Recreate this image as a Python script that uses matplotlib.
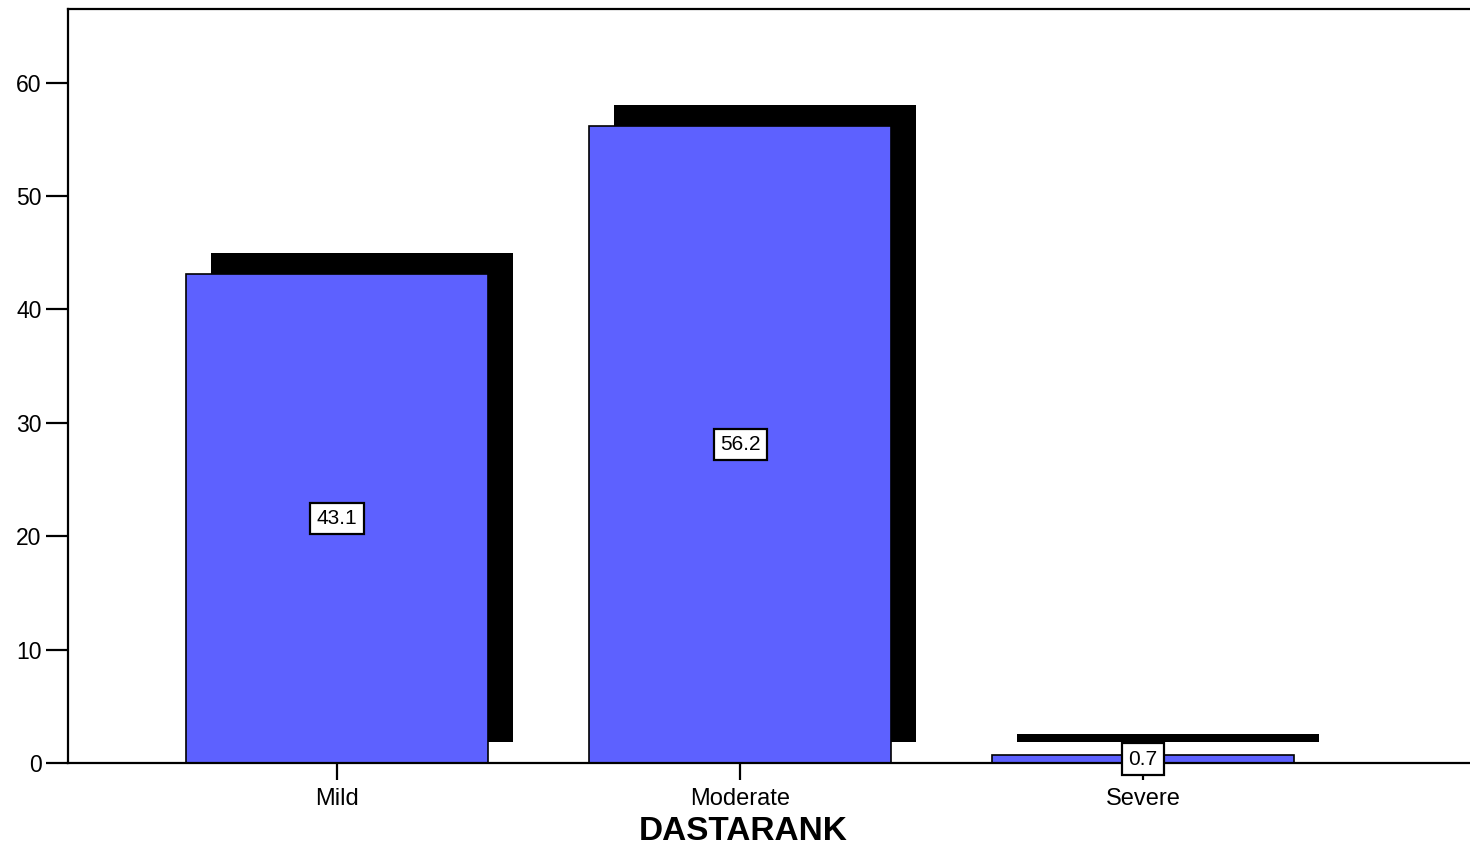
import matplotlib
matplotlib.use("Agg")
import matplotlib.pyplot as plt

categories = ["Mild", "Moderate", "Severe"]
percents = [43.1, 56.2, 0.7]
value_labels = ["43.1", "56.2", "0.7"]
y_ticks = [0, 10, 20, 30, 40, 50, 60]
x_title = "DASTARANK"

plt.rcParams["font.family"] = ["Liberation Sans", "DejaVu Sans"]

fig = plt.figure(figsize=(14.7, 8.5), dpi=100)
ax = fig.add_axes([68 / 1470, 1 - 763 / 850, 1 - 68 / 1470, (763 - 9) / 850])

bar_color = "#5d61ff"
width = 0.75
shadow_dx = 0.062
shadow_dy = 1.85
xs = list(range(len(categories)))

# drop shadows offset up and to the right
ax.bar([x + shadow_dx for x in xs], percents, width=width, bottom=shadow_dy,
       color="black", edgecolor="none", zorder=1)
# main bars
ax.bar(xs, percents, width=width, color=bar_color, edgecolor="black",
       linewidth=1.2, zorder=2)

for x, v, lab in zip(xs, percents, value_labels):
    ax.text(x, v / 2, lab, ha="center", va="center", fontsize=15, zorder=5,
            bbox=dict(boxstyle="square,pad=0.3", facecolor="white",
                      edgecolor="black", linewidth=1.6))

ax.set_xlim(-0.6675, 2.811)
ax.set_ylim(0, 66.5)
ax.set_xticks(xs)
ax.set_xticklabels(categories)
ax.set_yticks(y_ticks)

ax.spines["right"].set_visible(False)
for s in ("left", "top", "bottom"):
    ax.spines[s].set_linewidth(1.6)

ax.tick_params(axis="y", direction="out", length=16, width=1.6,
               labelsize=16.5, pad=3)
ax.tick_params(axis="x", direction="out", length=12, width=1.6,
               labelsize=17, pad=6)

ax.set_xlabel(x_title, fontsize=24, fontweight="bold", labelpad=4)
ax.xaxis.label.set_x((743 - 68) / 1402)

fig.savefig("out.png", dpi=100)
